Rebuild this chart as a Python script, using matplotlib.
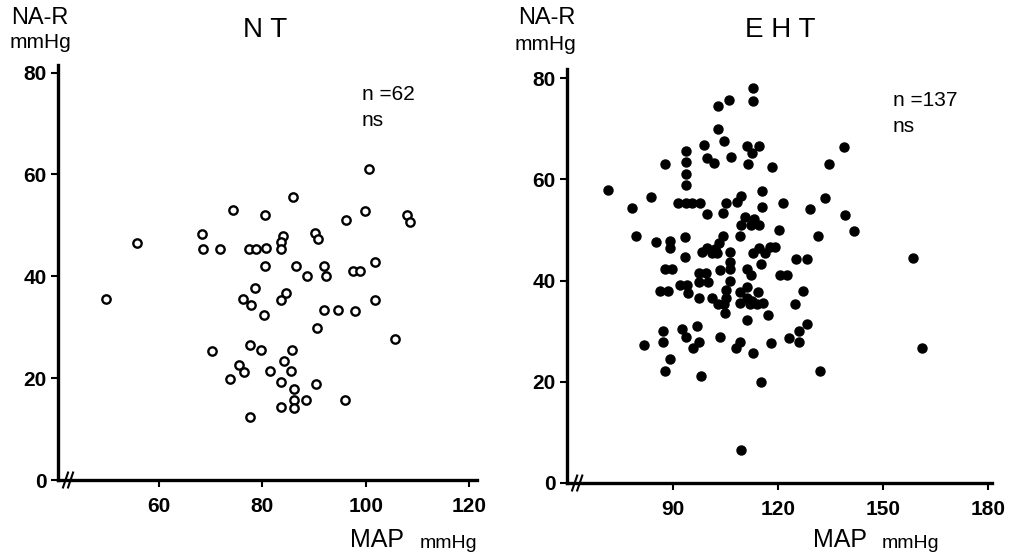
import numpy as np
import matplotlib
matplotlib.use("Agg")
import matplotlib.pyplot as plt

plt.rcParams['font.family'] = ['Liberation Sans', 'DejaVu Sans']

# NT group: MAP (mmHg) vs NA-R (mmHg)
nt_map = [74.3, 80.5, 68.3, 55.8, 68.5, 71.8, 77.4, 78.7, 80.7, 80.5, 78.5, 49.8, 76.2, 77.8, 80.3,
          100.7, 85.9, 99.8, 96.1, 107.9, 108.6, 83.9, 83.7, 83.7, 90.1, 90.7, 86.6, 92.0, 88.6, 92.4,
          101.7, 97.6, 98.8, 84.5, 83.7, 101.7, 91.9, 94.6, 98.0, 90.5,
          70.2, 77.6, 79.7, 75.4, 76.4, 73.7, 81.4, 77.6,
          105.6, 85.7, 84.1, 85.5, 83.7, 90.3, 86.1, 86.1, 88.4, 95.9, 83.6, 86.1]
nt_nar = [53.1, 52.1, 48.4, 46.5, 45.3, 45.3, 45.3, 45.3, 45.5, 42.0, 37.8, 35.5, 35.5, 34.3, 32.4,
          61.0, 55.5, 52.9, 51.0, 52.0, 50.6, 48.0, 46.7, 45.3, 48.6, 47.4, 42.0, 42.0, 40.0, 40.0,
          42.9, 41.0, 41.0, 36.7, 35.3, 35.3, 33.3, 33.3, 33.1, 29.8,
          25.3, 26.5, 25.5, 22.5, 21.2, 19.8, 21.4, 12.4,
          27.6, 25.5, 23.3, 21.4, 19.2, 18.8, 17.8, 15.7, 15.7, 15.7, 14.3, 14.1]

# EHT group
eht_map = [112.9, 112.8, 106.0, 102.9, 102.8, 104.7, 98.9, 93.6, 111.3, 114.6, 112.7, 99.6, 106.7,
           101.6, 93.6, 87.7, 111.5, 118.4, 93.6, 93.6, 71.3, 83.6, 109.5, 115.5,
           91.3, 93.7, 95.4, 97.8, 105.1, 108.2, 121.4, 78.4, 99.6, 104.3, 115.4, 110.6, 113.3,
           109.4, 112.2, 114.7,
           138.9, 134.6, 133.5, 129.2, 139.3,
           79.3, 85.2, 89.2, 89.2, 93.3, 93.4, 104.4, 103.2, 109.2, 120.2,
           98.4, 99.7, 101.2, 102.1, 102.7, 106.4, 106.2, 106.2, 103.3,
           112.8, 114.7, 116.3, 117.7, 119.1, 115.1,
           87.8, 89.6, 97.4, 99.3, 97.4, 100.1, 106.3, 111.1, 112.2, 120.6, 122.5,
           86.4, 88.5, 92.0, 94.0, 94.2, 97.4, 101.1, 105.1, 105.1, 102.8, 104.7,
           109.1, 111.3, 114.4, 109.2, 111.1, 112.5, 113.9, 115.6, 112.0,
           105.0, 111.2, 117.1,
           87.2, 92.6, 96.9, 93.7, 87.1, 97.3, 81.8, 95.7, 103.3, 109.2, 108.0, 113.0, 118.0, 123.1,
           89.1, 87.6, 97.9, 115.1,
           131.4, 141.7, 125.1, 128.3, 158.5, 127.1, 125.0, 128.2, 126.1, 126.0, 161.1, 132.1,
           109.4]
eht_nar = [78.0, 75.5, 75.6, 74.4, 69.9, 67.6, 66.7, 65.6, 66.5, 66.5, 65.3, 64.3, 64.4,
           63.3, 63.5, 63.1, 63.1, 62.4, 61.0, 58.8, 57.9, 56.6, 56.7, 57.7,
           55.4, 55.4, 55.4, 55.4, 55.4, 55.5, 55.3, 54.4, 53.2, 53.3, 54.5, 52.6, 52.2,
           51.0, 50.9, 50.9,
           66.3, 63.1, 56.4, 54.2, 53.0,
           48.9, 47.7, 47.9, 46.5, 48.7, 44.6, 48.8, 47.5, 48.9, 49.9,
           45.6, 46.5, 45.4, 46.2, 45.4, 45.6, 43.7, 42.3, 42.1,
           45.4, 46.5, 45.4, 46.6, 46.6, 43.3,
           42.2, 42.2, 41.4, 41.4, 39.8, 39.8, 40.0, 42.2, 41.1, 41.0, 41.0,
           37.9, 37.9, 39.1, 39.1, 37.5, 36.6, 36.6, 38.1, 36.6, 35.4, 35.4,
           37.8, 38.8, 37.8, 35.5, 36.6, 36.0, 35.3, 35.5, 35.3,
           33.5, 32.2, 33.1,
           30.0, 30.4, 31.0, 28.9, 27.9, 27.9, 27.2, 26.6, 28.9, 27.8, 26.6, 25.6, 27.7, 28.7,
           24.5, 22.2, 21.1, 20.0,
           48.9, 49.8, 44.2, 44.2, 44.4, 37.9, 35.4, 31.4, 30.0, 27.8, 26.6, 22.1,
           6.6]

y_ticks = [0, 20, 40, 60, 80]
nt_xticks = [60, 80, 100, 120]
eht_xticks = [90, 120, 150, 180]

W, H = 1019, 557
fig = plt.figure(figsize=(W / 100, H / 100), dpi=100)


def make_axes(rect, xlim, ylim, xticks):
    ax = fig.add_axes(rect)
    ax.set_xlim(*xlim)
    ax.set_ylim(*ylim)
    for s in ['top', 'right']:
        ax.spines[s].set_visible(False)
    for s in ['left', 'bottom']:
        ax.spines[s].set_linewidth(2.4)
    ax.set_xticks(xticks)
    ax.set_yticks(y_ticks)
    ax.tick_params(direction='out', length=5, width=1.5, pad=3, labelsize=15)
    ax.tick_params(axis='x', pad=7)
    for lab in ax.get_xticklabels() + ax.get_yticklabels():
        lab.set_fontweight('bold')
    # break mark on x axis
    for dx in (0.018, 0.030):
        ax.plot([dx - 0.006, dx + 0.006], [-0.018, 0.018], transform=ax.transAxes,
                color='black', lw=1.5, clip_on=False)
    return ax


ax1 = make_axes([58 / W, 77 / H, 419 / W, 415 / H], (40.5, 121.5), (0, 81.5), nt_xticks)
ax1.plot(nt_map, nt_nar, 'o', mfc='white', mec='black', ms=6, mew=1.7)

ax2 = make_axes([567 / W, 74 / H, 425 / W, 414 / H], (59.7, 181.2), (0, 81.8), eht_xticks)
ax2.plot(eht_map, eht_nar, 'o', color='black', ms=6.5)


def ftext(x, y, s, **kw):
    fig.text(x / W, 1 - y / H, s, **kw)


# left panel texts
ftext(40, 18, 'NA-R', ha='center', va='center', fontsize=17)
ftext(40, 43, 'mmHg', ha='center', va='center', fontsize=15)
ftext(265, 30, 'N T', ha='center', va='center', fontsize=20)
ftext(362, 95, 'n =62', ha='left', va='center', fontsize=15)
ftext(362, 121, 'ns', ha='left', va='center', fontsize=15)
ftext(350, 540, 'MAP', ha='left', va='center', fontsize=18)
ftext(420, 543, 'mmHg', ha='left', va='center', fontsize=14)

# right panel texts
ftext(547, 18, 'NA-R', ha='center', va='center', fontsize=17)
ftext(545, 45, 'mmHg', ha='center', va='center', fontsize=15)
ftext(780, 30, 'E H T', ha='center', va='center', fontsize=20)
ftext(893, 100, 'n =137', ha='left', va='center', fontsize=15)
ftext(893, 126, 'ns', ha='left', va='center', fontsize=15)
ftext(813, 540, 'MAP', ha='left', va='center', fontsize=18)
ftext(882, 543, 'mmHg', ha='left', va='center', fontsize=14)

fig.savefig('out.png', dpi=100)
